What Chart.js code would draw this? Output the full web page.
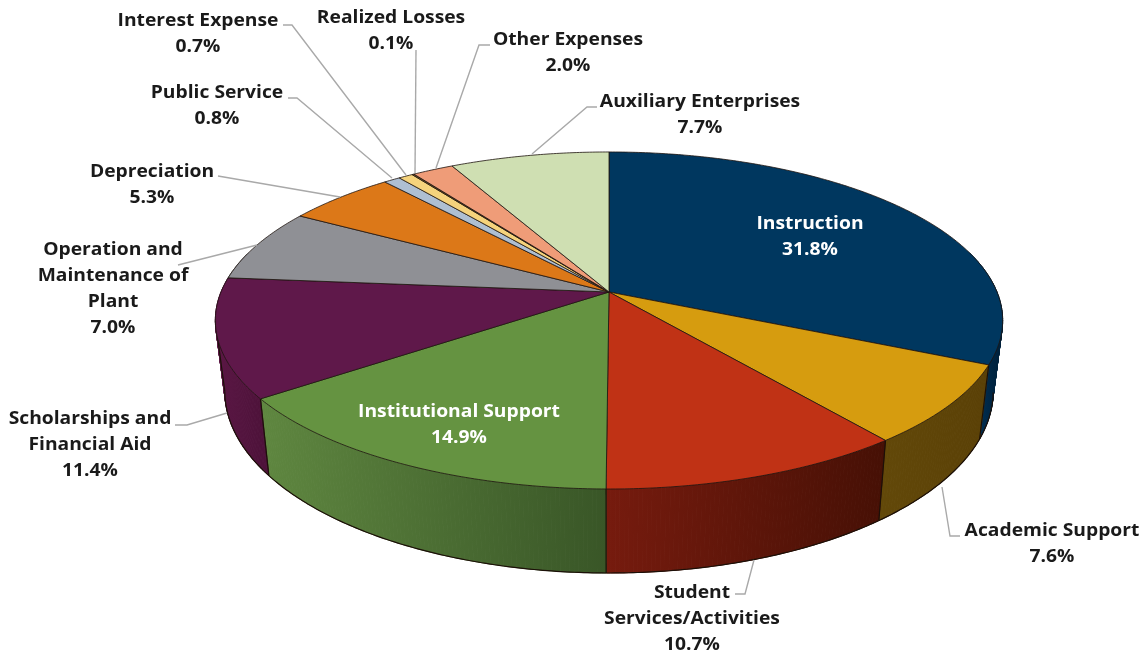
<!DOCTYPE html>
<html>
<head>
<meta charset="utf-8">
<title>Expenses</title>
<script src="https://cdn.jsdelivr.net/npm/chart.js@4"></script>
<style>
  html, body { margin: 0; background: #fff; }
  canvas { display: block; }
</style>
</head>
<body>
<canvas id="myChart" width="1144" height="653"></canvas>
<script>
const categories = ['Instruction', 'Academic Support', 'Student Services/Activities', 'Institutional Support',
  'Scholarships and Financial Aid', 'Operation and Maintenance of Plant', 'Depreciation', 'Public Service',
  'Interest Expense', 'Realized Losses', 'Other Expenses', 'Auxiliary Enterprises'];
const percentages = [31.8, 7.6, 10.7, 14.9, 11.4, 7.0, 5.3, 0.8, 0.7, 0.1, 2.0, 7.7];

const topColors = ['#00375f', '#d69c0f', '#c03215', '#659341', '#5f184a', '#8f9095',
  '#dc7818', '#aebfd2', '#f5d37c', '#7a5a20', '#ef9c78', '#cfdfb2'];
// side wall shading, left to right
const wallLeft = ['#00335a', '#624809', '#761b0e', '#5f8740', '#5b1745', '#6b6c70',
  '#a55a12', '#82909e', '#b89e5d', '#5a4318', '#b37559', '#9ba785'];
const wallRight = ['#001f38', '#5a4006', '#461005', '#395627', '#4e123a', '#6b6c70',
  '#a55a12', '#82909e', '#b89e5d', '#5a4318', '#b37559', '#9ba785'];

// line breaks and anchor of each label: centre x, centre y of the first line
const labelLines = [['Instruction'], ['Academic Support'], ['Student', 'Services/Activities'], ['Institutional Support'],
  ['Scholarships and', 'Financial Aid'], ['Operation and', 'Maintenance of', 'Plant'], ['Depreciation'], ['Public Service'],
  ['Interest Expense'], ['Realized Losses'], ['Other Expenses'], ['Auxiliary Enterprises']];
const labelAnchors = [[810, 224], [1052, 531], [692, 593], [459, 412], [90, 419], [113, 250],
  [152, 172], [217, 93], [198, 21], [391, 18], [568, 40], [700, 102]];
const labelColors = ['#fff', '#1a1a1a', '#1a1a1a', '#fff', '#1a1a1a', '#1a1a1a',
  '#1a1a1a', '#1a1a1a', '#1a1a1a', '#1a1a1a', '#1a1a1a', '#1a1a1a'];
const leaders = [
  null,
  [[960, 536], [950, 536], [942, 487]],
  [[735, 594], [745, 594], [754, 560]],
  null,
  [[175, 425], [187, 425], [227, 413]],
  [[178, 265], [257, 245]],
  [[218, 176], [340, 197]],
  [[288, 98], [297, 98], [392, 178]],
  [[283, 25], [292, 25], [406, 175]],
  [[416, 50], [415, 173]],
  [[490, 45], [479, 45], [436, 168]],
  [[597, 107], [587, 107], [532, 154]]
];

// tilted disc: apex of the pie and the perspective of its rim
const disc = { cx: 609, cy: 292, rx: 388, ry: 163.7, k: 0.169 };

function rim(angle) {
  const u = Math.cos(angle), v = -Math.sin(angle), w = 1 + disc.k * v;
  return [disc.cx + disc.rx * u / w, disc.cy - disc.ry * v / w];
}

// same rim on the underside of the pie
function lower(p) {
  return [disc.cx + 0.976 * (p[0] - disc.cx), 573 + 1.08 * (p[1] - 489)];
}

function arcPoints(start, end) {
  const n = Math.max(2, Math.ceil((end - start) / 0.01));
  const pts = [];
  for (let i = 0; i <= n; i++) pts.push(start + (end - start) * i / n);
  return pts;
}

function polyline(ctx, pts) {
  pts.forEach((p, i) => i ? ctx.lineTo(p[0], p[1]) : ctx.moveTo(p[0], p[1]));
}

const pie3d = {
  id: 'pie3d',
  beforeDatasetDraw(chart) {
    const ctx = chart.ctx;
    const arcs = chart.getDatasetMeta(0).data;
    ctx.save();
    ctx.lineJoin = 'round';

    // side walls first, the top face covers whatever is behind it
    arcs.forEach((arc, i) => {
      const angles = arcPoints(arc.startAngle, arc.endAngle).filter(a => -Math.sin(a) < 0.25);
      if (angles.length < 2) return;
      const top = angles.map(rim), bottom = top.map(lower);
      const xs = top.map(p => p[0]);
      const grad = ctx.createLinearGradient(Math.min(...xs), 0, Math.max(...xs), 0);
      grad.addColorStop(0, wallLeft[i]);
      grad.addColorStop(1, wallRight[i]);
      ctx.fillStyle = grad;
      ctx.strokeStyle = grad;
      ctx.lineWidth = 1;
      for (let j = 0; j < top.length - 1; j++) {
        ctx.beginPath();
        polyline(ctx, [top[j], top[j + 1], bottom[j + 1], bottom[j]]);
        ctx.closePath();
        ctx.fill();
        ctx.stroke();
      }
    });

    // bottom rim and wall seams go over all the fills, only on the front of the pie
    arcs.forEach((arc) => {
      const angles = arcPoints(arc.startAngle, arc.endAngle).filter(a => -Math.sin(a) < -disc.k);
      if (angles.length < 2) return;
      const top = angles.map(rim), bottom = top.map(lower);
      ctx.strokeStyle = '#1c1008';
      ctx.lineWidth = 1.2;
      ctx.beginPath();
      polyline(ctx, bottom);
      ctx.stroke();
      ctx.beginPath();
      polyline(ctx, [top[top.length - 1], bottom[bottom.length - 1]]);
      ctx.stroke();
    });

    // top face
    arcs.forEach((arc) => {
      ctx.beginPath();
      polyline(ctx, [[disc.cx, disc.cy]].concat(arcPoints(arc.startAngle, arc.endAngle).map(rim)));
      ctx.closePath();
      ctx.fillStyle = arc.options.backgroundColor;
      ctx.fill();
      ctx.strokeStyle = 'rgba(30,20,15,0.8)';
      ctx.lineWidth = 1;
      ctx.stroke();
    });
    ctx.restore();
    return false;
  },
  afterDatasetsDraw(chart) {
    const ctx = chart.ctx;
    ctx.save();
    ctx.strokeStyle = '#a9a9a9';
    ctx.lineWidth = 1.4;
    leaders.forEach((pts) => {
      if (!pts) return;
      ctx.beginPath();
      polyline(ctx, pts);
      ctx.stroke();
    });

    ctx.font = 'bold 18px "Open Sans"';
    ctx.textAlign = 'center';
    ctx.textBaseline = 'middle';
    percentages.forEach((value, i) => {
      const lines = labelLines[i].concat(value.toFixed(1) + '%');
      ctx.fillStyle = labelColors[i];
      lines.forEach((line, j) => {
        ctx.save();
        ctx.translate(labelAnchors[i][0], labelAnchors[i][1] + j * 25.8);
        ctx.scale(1.07, 1);
        ctx.fillText(line, 0, 0);
        ctx.restore();
      });
    });
    ctx.restore();
  }
};

new Chart(document.getElementById('myChart'), {
  type: 'pie',
  plugins: [pie3d],
  data: {
    labels: categories,
    datasets: [{
      data: percentages,
      backgroundColor: topColors
    }]
  },
  options: {
    responsive: false,
    animation: false,
    plugins: {
      legend: { display: false },
      tooltip: { enabled: false }
    }
  }
});
</script>
</body>
</html>
